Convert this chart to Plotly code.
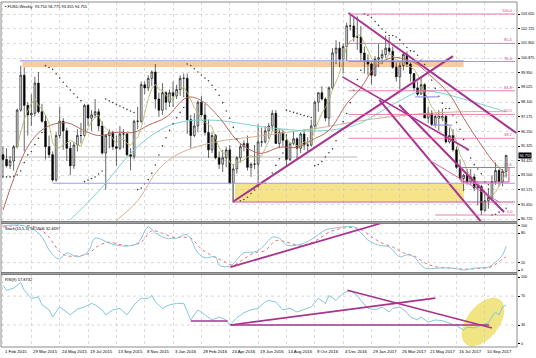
import numpy as np
import pandas as pd
import plotly.graph_objects as go

START = pd.Timestamp("2015-02-01")

# ---------------- weekly candles ----------------
open_ = [94.8, 94.5, 94.1, 94.4, 95.3, 97.6, 99.8, 97.9, 97.3, 97.4, 99.3, 97.5, 96.9, 95.3, 94.8, 93.2,
         96.0, 96.9, 96.3, 95.2, 94.1, 95.4, 96.0, 96.0, 97.9, 97.1, 97.3, 97.5, 96.6, 94.9, 96.0, 96.2,
         95.3, 95.2, 96.1, 96.1, 94.8, 94.7, 96.9, 96.9, 99.2, 99.0, 99.6, 100.0, 98.3, 97.6, 98.7, 98.1,
         98.7, 98.5, 98.9, 99.6, 99.6, 97.0, 96.0, 96.6, 98.1, 97.3, 96.2, 95.1, 96.0, 94.6, 94.2, 94.6,
         95.1, 93.0, 93.9, 94.6, 95.3, 95.5, 94.0, 94.2, 94.2, 95.6, 95.6, 96.3, 96.6, 97.4, 95.5, 96.2,
         95.7, 94.5, 95.5, 95.8, 95.2, 96.1, 95.4, 95.4, 96.6, 98.1, 98.7, 98.3, 97.1, 99.0, 101.2, 101.5,
         100.8, 101.6, 102.9, 102.9, 102.2, 102.2, 101.2, 100.7, 100.5, 99.8, 100.8, 100.9, 101.1, 101.5, 101.3, 100.3,
         99.7, 100.4, 101.1, 100.5, 99.9, 99.0, 98.6, 99.2, 97.1, 97.4, 96.7, 97.2, 97.1, 97.2, 95.6, 96.0,
         95.1, 94.0, 93.3, 93.5, 93.1, 93.4, 92.7, 92.8, 91.3, 91.9, 92.1, 93.1, 93.8, 93.1, 93.75]
high_ = [95.3, 95.2, 94.7, 95.4, 97.7, 100.4, 100.3, 98.1, 98.6, 99.7, 100.0, 98.0, 97.3, 96.0, 95.0, 96.2,
         97.8, 97.1, 96.5, 95.6, 95.6, 96.4, 96.8, 98.0, 98.0, 97.6, 98.3, 97.7, 96.9, 96.1, 96.4, 96.3,
         96.0, 96.6, 96.4, 96.2, 95.2, 97.0, 97.8, 99.4, 99.4, 99.8, 100.1, 100.5, 98.7, 99.3, 98.8, 98.9,
         99.4, 99.2, 99.8, 99.9, 99.9, 97.3, 97.4, 98.2, 98.5, 98.0, 97.0, 96.2, 96.1, 95.0, 95.1, 95.3,
         95.4, 94.2, 94.7, 95.5, 95.7, 96.0, 94.3, 95.4, 96.7, 96.5, 96.6, 96.8, 97.6, 97.6, 96.4, 96.4,
         96.1, 95.6, 96.3, 95.9, 96.2, 96.4, 95.9, 97.0, 98.2, 98.7, 99.1, 98.4, 99.1, 101.5, 102.0, 101.9,
         101.8, 103.1, 103.65, 103.4, 103.5, 102.9, 101.6, 101.1, 100.6, 101.0, 101.8, 101.4, 102.3, 102.2, 101.6, 100.6,
         100.6, 101.2, 101.3, 100.6, 99.9, 99.4, 99.7, 99.3, 97.8, 97.6, 97.3, 97.6, 97.7, 97.3, 96.5, 96.4,
         95.3, 94.5, 93.6, 93.9, 93.9, 93.6, 93.0, 92.9, 92.4, 92.7, 93.5, 94.3, 93.9, 93.9, 94.775]
low_ = [93.4, 94.0, 93.9, 93.8, 95.2, 97.5, 95.0, 96.0, 96.6, 97.2, 97.4, 96.8, 94.5, 94.6, 93.1, 93.1,
        95.8, 95.1, 94.4, 93.5, 93.9, 95.0, 95.5, 95.9, 96.6, 96.3, 97.1, 96.3, 94.8, 92.6, 95.2, 95.1,
        94.1, 95.1, 95.2, 94.7, 93.8, 94.5, 96.4, 96.8, 98.6, 98.8, 99.1, 97.7, 97.2, 97.3, 97.6, 97.8,
        97.8, 98.3, 98.5, 98.4, 96.1, 95.2, 95.9, 96.2, 97.2, 96.0, 94.6, 94.9, 94.5, 93.9, 93.7, 94.0,
        93.0, 91.9, 93.6, 94.3, 95.0, 93.8, 93.4, 93.9, 93.0, 95.3, 95.5, 95.8, 96.3, 95.5, 95.2, 95.3,
        94.1, 94.4, 95.4, 94.5, 94.9, 95.1, 95.0, 95.3, 96.4, 97.5, 98.2, 96.9, 96.6, 98.9, 100.5, 100.3,
        99.9, 100.7, 102.6, 101.9, 101.4, 100.7, 99.9, 99.8, 99.2, 99.7, 100.3, 100.5, 100.9, 101.1, 100.2, 99.4,
        98.9, 100.1, 100.3, 99.4, 98.8, 98.5, 98.6, 97.1, 96.8, 96.6, 96.5, 96.3, 96.9, 95.5, 95.5, 95.0,
        93.9, 93.2, 92.5, 92.9, 92.9, 92.5, 91.6, 91.0, 91.2, 91.4, 92.0, 92.9, 92.8, 92.8, 93.355]
close_ = [94.5, 94.1, 94.4, 95.3, 97.6, 99.8, 97.9, 97.3, 97.4, 99.3, 97.5, 96.9, 95.3, 94.8, 93.2, 96.0,
          96.9, 96.3, 95.2, 94.1, 95.4, 96.0, 96.0, 97.9, 97.1, 97.3, 97.5, 96.6, 94.9, 96.0, 96.2, 95.3,
          95.2, 96.1, 96.1, 94.8, 94.7, 96.9, 96.9, 99.2, 99.0, 99.6, 100.0, 98.3, 97.6, 98.7, 98.1, 98.7,
          98.5, 98.9, 99.6, 99.6, 97.0, 96.0, 96.6, 98.1, 97.3, 96.2, 95.1, 96.0, 94.6, 94.2, 94.6, 95.1,
          93.0, 93.9, 94.6, 95.3, 95.5, 94.0, 94.2, 94.2, 95.6, 95.6, 96.3, 96.6, 97.4, 95.5, 96.2, 95.7,
          94.5, 95.5, 95.8, 95.2, 96.1, 95.4, 95.4, 96.6, 98.1, 98.7, 98.3, 97.1, 99.0, 101.2, 101.5, 100.8,
          101.6, 102.9, 102.9, 102.2, 102.2, 101.2, 100.7, 100.5, 99.8, 100.8, 100.9, 101.1, 101.5, 101.3, 100.3, 99.7,
          100.4, 101.1, 100.5, 99.9, 99.0, 98.6, 99.2, 97.1, 97.4, 96.7, 97.2, 97.1, 97.2, 95.6, 96.0, 95.1,
          94.0, 93.3, 93.5, 93.1, 93.4, 92.7, 92.8, 91.3, 91.9, 92.1, 93.1, 93.8, 93.1, 93.75, 94.755]

# ---------------- moving averages (week index, price) ----------------
ma_brown_week = [0, 7, 12, 18, 23, 27, 32, 37, 41, 46, 52, 56, 61, 66, 70, 73, 78, 83, 87, 92, 97, 101,
                 105, 110, 116, 120, 126, 130, 135, 139, 142]
ma_brown_val = [91.3, 95.3, 96.5, 96.8, 96.3, 96.0, 96.2, 96.2, 96.65, 97.15, 98.4, 98.2, 97.15, 95.7, 95.07,
                94.88, 95.26, 95.26, 95.7, 96.33, 98.0, 99.0, 100.3, 100.9, 100.6, 99.9, 98.6, 97.1, 95.4, 94.2, 93.6]
ma_cyan_week = [19, 27, 37, 44, 50, 60, 75, 90, 100, 105, 112, 118, 123, 130, 136, 142]
ma_cyan_val = [90.7, 92.5, 95.1, 96.3, 96.84, 96.96, 96.5, 96.3, 96.7, 97.3, 98.2, 98.8, 98.7, 98.3, 97.9, 97.5]
ma_tan_week = [32, 38, 44, 50, 60, 70, 80, 90, 100, 110, 120, 130, 142]
ma_tan_val = [90.65, 91.9, 93.9, 94.9, 95.6, 95.9, 96.2, 96.5, 96.9, 97.2, 97.4, 97.5, 97.5]

# ---------------- Stochastic (week index, value) ----------------
stoch_k_week = [0, 4, 8, 11, 13, 15, 16, 18, 21, 24, 26, 30, 32, 35, 38, 41, 43, 46, 49, 52, 55, 57, 60, 61,
                64, 68, 71, 73, 76, 78, 80, 83, 85, 88, 91, 94, 96, 99, 101, 103, 106, 109, 112, 114, 116,
                119, 123, 127, 130, 133, 137, 139, 141, 142]
stoch_k_val = [95, 97, 91, 72, 46, 30, 28, 40, 32, 42, 70, 60, 56, 54, 60, 93, 81, 70, 70, 77, 40, 30, 32, 15,
               13, 40, 42, 50, 72, 70, 56, 56, 60, 72, 87, 91, 93, 93, 81, 66, 56, 52, 32, 36, 32,
               9, 9, 9, 5, 9, 11, 21, 36, 53.55]
stoch_d_week = [0, 5, 9, 12, 14, 16, 18, 21, 24, 27, 30, 33, 36, 39, 42, 45, 48, 51, 53, 56, 59, 62, 65, 68,
                71, 74, 77, 80, 83, 86, 89, 92, 95, 98, 101, 104, 107, 110, 113, 116, 119, 122, 126, 130,
                134, 138, 140, 142]
stoch_d_val = [93, 96, 93, 80, 62, 42, 34, 34, 38, 55, 62, 57, 55, 62, 85, 80, 72, 72, 70, 48, 34, 24, 15, 28,
               40, 45, 65, 62, 56, 58, 68, 82, 89, 92, 88, 73, 60, 52, 40, 34, 20, 12, 9, 7,
               8, 12, 22, 32.47]

# ---------------- RSI (week index, value) ----------------
rsi_week = [0, 1, 3, 5, 6, 8, 10, 11, 13, 14, 16, 18, 19, 21, 23, 25, 26, 28, 29, 31, 33, 35, 37, 39, 41, 42,
            43, 45, 47, 49, 51, 53, 55, 57, 59, 61, 63, 64, 66, 68, 70, 72, 74, 75, 77, 79, 81, 83, 85, 87,
            89, 91, 92, 94, 96, 98, 100, 101, 103, 105, 107, 109, 110, 112, 114, 115, 117, 118, 120, 122,
            124, 126, 128, 130, 131, 133, 135, 137, 138, 139, 140, 141, 142]
rsi_val = [85, 78, 81, 89, 78, 67, 69, 58, 51, 41, 55, 48, 44, 52, 55, 60, 58, 51, 44, 51, 53, 44, 58, 67, 67, 71,
           62, 53, 58, 60, 60, 37, 51, 44, 37, 41, 37, 30, 40, 47, 51, 53, 62, 64, 62, 51, 53, 48, 51, 55,
           67, 60, 71, 64, 74, 78, 71, 64, 53, 51, 55, 48, 53, 55, 47, 41, 37, 41, 34, 37,
           36, 33, 29, 23, 27, 26, 29, 33, 41, 48, 44, 55, 57.87]

# ---------------- drawn objects (week index, price / value) ----------------
trend_main = {
    "a": ([64.8, 127.0], [91.82, 101.0], 2.0),
    "b": ([97.5, 144.9], [103.71, 96.16], 2.0),
    "c": ([106.2, 134.8], [98.24, 90.62], 2.0),
    "d": ([111.8, 141.4], [97.92, 91.19], 2.0),
    "e": ([95.8, 131.5], [99.69, 95.09], 1.6),
    "f": ([120.3, 140.0], [94.46, 91.82], 1.0),
}
fib_levels = ["100.0", "85.4", "76.4", "61.8", "50.0", "38.2", "23.6", "0.0"]
fib_prices = [103.65, 101.80, 100.66, 98.82, 97.33, 95.83, 93.99, 91.00]
fib_start_week = [97.5, 97.5, 97.5, 97.5, 97.5, 97.5, 129.3, 122.0]
fib_end_week = 144.5

stoch_trend = ([64.2, 106.5], [11, 100])
rsi_trends = [([53, 63.4], [35.5, 35.5]), ([64.2, 137.2], [30, 30]),
              ([64.2, 122.0], [30, 67.2]), ([97.2, 138.0], [78.3, 25.9])]

price_ticks = [103.65, 102.725, 101.8, 100.875, 99.95, 99.025, 98.1, 97.175, 96.25, 95.325,
               94.425, 93.5, 92.575, 91.65, 90.725]
stoch_tick_pos = [5, 20, 80, 95]
stoch_tick_text = ["0", "20", "80", "100"]
rsi_tick_pos = [4, 30, 70, 96]
rsi_tick_text = ["0", "30", "70", "100"]
date_tick_labels = ["1 Feb 2015", "29 Mar 2015", "24 May 2015", "19 Jul 2015", "13 Sep 2015", "8 Nov 2015",
                    "3 Jan 2016", "28 Feb 2016", "24 Apr 2016", "19 Jun 2016", "14 Aug 2016", "9 Oct 2016",
                    "4 Dec 2016", "29 Jan 2017", "26 Mar 2017", "21 May 2017", "16 Jul 2017", "10 Sep 2017"]

# ---------------------------------------------------------------------
def wk(w):
    return START + pd.to_timedelta(np.asarray(w, dtype=float) * 7, unit="D")

dates = wk(np.arange(len(close_)))

# pixel helpers for paper-positioned decorations
PL, PW, PT, PH = 1.0, 516.0, 2.0, 345.0
def pxx(x):
    return (x - PL) / PW
def pxy(y):
    return (PT + PH - y) / PH

FONT = "Liberation Sans"
MAG = "#A8338F"
FIBC = "#E0609C"
LAV = "#9C9CF2"

fig = go.Figure()

# Moving averages
fig.add_trace(go.Scatter(x=wk(ma_tan_week), y=ma_tan_val, mode="lines", line=dict(color="#D9AE92", width=1, shape="spline"),
                         hoverinfo="skip", xaxis="x", yaxis="y"))
fig.add_trace(go.Scatter(x=wk(ma_cyan_week), y=ma_cyan_val, mode="lines", line=dict(color="#7FD0D0", width=1, shape="spline"),
                         hoverinfo="skip", xaxis="x", yaxis="y"))
fig.add_trace(go.Scatter(x=wk(ma_brown_week), y=ma_brown_val, mode="lines", line=dict(color="#B8675A", width=1, shape="spline"),
                         hoverinfo="skip", xaxis="x", yaxis="y"))
fast_ma = pd.Series(close_).rolling(5).mean()
fig.add_trace(go.Scatter(x=dates, y=fast_ma, mode="lines", line=dict(color="#B7B873", width=0.9),
                         hoverinfo="skip", xaxis="x", yaxis="y"))

# Parabolic SAR from the candles
def psar(h, l, step=0.02, mx=0.2):
    n = len(h)
    out = [np.nan] * n
    up = True
    af = step
    ep = h[0]
    out[0] = l[0]
    for i in range(1, n):
        s = out[i - 1] + af * (ep - out[i - 1])
        if up:
            s = min(s, l[i - 1], l[i - 2] if i > 1 else l[i - 1])
            if l[i] < s:
                up, s, ep, af = False, ep, l[i], step
            elif h[i] > ep:
                ep, af = h[i], min(af + step, mx)
        else:
            s = max(s, h[i - 1], h[i - 2] if i > 1 else h[i - 1])
            if h[i] > s:
                up, s, ep, af = True, ep, h[i], step
            elif l[i] < ep:
                ep, af = l[i], min(af + step, mx)
        out[i] = s
    return out

fig.add_trace(go.Scatter(x=dates, y=psar(high_, low_), mode="markers",
                         marker=dict(size=1.6, color="#404040"), hoverinfo="skip", xaxis="x", yaxis="y"))

# trend lines
for key, (w, p, wd) in trend_main.items():
    fig.add_trace(go.Scatter(x=wk(w), y=p, mode="lines", line=dict(color=MAG if wd > 1.2 else "#D86AA8", width=wd),
                             hoverinfo="skip", xaxis="x", yaxis="y"))

# Candles
fig.add_trace(go.Candlestick(x=dates, open=open_, high=high_, low=low_, close=close_,
                             increasing=dict(line=dict(color="#000000", width=0.6), fillcolor="#E6E6E6"),
                             decreasing=dict(line=dict(color="#000000", width=0.6), fillcolor="#000000"),
                             whiskerwidth=0, hoverinfo="skip", xaxis="x", yaxis="y"))

# Stochastic
fig.add_trace(go.Scatter(x=wk(stoch_d_week), y=stoch_d_val, mode="lines",
                         line=dict(color="#E05050", width=0.8, dash="dot", shape="spline"), hoverinfo="skip", xaxis="x", yaxis="y2"))
fig.add_trace(go.Scatter(x=wk(stoch_k_week), y=stoch_k_val, mode="lines",
                         line=dict(color="#86C6DA", width=1.0, shape="spline"), hoverinfo="skip", xaxis="x", yaxis="y2"))
fig.add_trace(go.Scatter(x=wk(stoch_trend[0]), y=stoch_trend[1], mode="lines", line=dict(color=MAG, width=1.8),
                         hoverinfo="skip", xaxis="x", yaxis="y2"))

# RSI
fig.add_trace(go.Scatter(x=wk(rsi_week), y=rsi_val, mode="lines", line=dict(color="#86C6DA", width=1.0),
                         hoverinfo="skip", xaxis="x", yaxis="y3"))
for w, v in rsi_trends:
    fig.add_trace(go.Scatter(x=wk(w), y=v, mode="lines", line=dict(color=MAG, width=1.6),
                             hoverinfo="skip", xaxis="x", yaxis="y3"))

shapes = []
# orange band + lavender line (top)
shapes.append(dict(type="rect", xref="x", yref="y", x0=wk(5.5), x1=wk(130), y0=100.32, y1=100.63,
                   fillcolor="#FBCB9E", line=dict(width=0), layer="below"))
shapes.append(dict(type="line", xref="x", yref="y", x0=wk(4.8), x1=wk(130), y0=100.70, y1=100.70,
                   line=dict(color=LAV, width=1.2)))
# yellow box
shapes.append(dict(type="rect", xref="x", yref="y", x0=wk(65.5), x1=wk(130.1), y0=91.85, y1=93.0,
                   fillcolor="#F5E48A", line=dict(width=0), layer="below"))
shapes.append(dict(type="line", xref="x", yref="y", x0=wk(14), x1=wk(144.5), y0=93.0, y1=93.0,
                   line=dict(color=LAV, width=1.2)))
shapes.append(dict(type="line", xref="x", yref="y", x0=wk(64.8), x1=wk(144.5), y0=91.82, y1=91.82,
                   line=dict(color="#D0509A", width=1.2)))
shapes.append(dict(type="line", xref="x", yref="y", x0=wk(64.8), x1=wk(64.8), y0=91.82, y1=93.0,
                   line=dict(color="#909090", width=0.8)))
# gray horizontal
shapes.append(dict(type="line", xref="x", yref="y", x0=wk(-0.5), x1=wk(100), y0=94.65, y1=94.65,
                   line=dict(color="#A8A8A8", width=0.8), layer="below"))
# short lavender segments
shapes.append(dict(type="line", xref="x", yref="y", x0=wk(116.3), x1=wk(122.8), y0=98.43, y1=98.43,
                   line=dict(color=LAV, width=1.2)))
shapes.append(dict(type="line", xref="x", yref="y", x0=wk(121.1), x1=wk(126.8), y0=96.66, y1=96.66,
                   line=dict(color=LAV, width=1.2)))
# pink box near the end
shapes.append(dict(type="rect", xref="x", yref="y", x0=wk(129.3), x1=wk(142.8), y0=93.08, y1=93.99,
                   line=dict(color="#D0509A", width=1)))
# fib lines
for lab, pr, ws in zip(fib_levels, fib_prices, fib_start_week):
    shapes.append(dict(type="line", xref="x", yref="y", x0=wk(ws), x1=wk(fib_end_week), y0=pr, y1=pr,
                       line=dict(color=FIBC, width=0.8)))
# level lines in indicator panes
for lv in (20, 80):
    shapes.append(dict(type="line", xref="paper", yref="y2", x0=0, x1=1, y0=lv, y1=lv,
                       line=dict(color="#C0C0C0", width=0.6, dash="dot"), layer="below"))
for lv in (30, 70):
    shapes.append(dict(type="line", xref="paper", yref="y3", x0=0, x1=1, y0=lv, y1=lv,
                       line=dict(color="#C0C0C0", width=0.6, dash="dot"), layer="below"))
# yellow ellipse in RSI pane
t = np.linspace(0, 2 * np.pi, 60)
th = np.deg2rad(52)
cx, cy, ea, eb = 483.0, 322.0, 28.0, 16.0
ex = cx + ea * np.cos(t) * np.cos(th) + eb * np.sin(t) * np.sin(th)
ey = cy - ea * np.cos(t) * np.sin(th) + eb * np.sin(t) * np.cos(th)
ey = np.minimum(ey, 346.5)
path = "M " + " L ".join(f"{pxx(a):.5f},{pxy(b):.5f}" for a, b in zip(ex, ey)) + " Z"
shapes.append(dict(type="path", xref="paper", yref="paper", path=path,
                   fillcolor="rgba(238,222,100,0.8)", line=dict(width=0), layer="below"))

# pane frames and separators
D_MAIN = [pxy(221.5), 1.0]
D_STO = [pxy(272.5), pxy(223.5)]
D_RSI = [0.0, pxy(274.5)]
for d in (D_MAIN, D_STO, D_RSI):
    shapes.append(dict(type="rect", xref="paper", yref="paper", x0=0, x1=1, y0=d[0], y1=d[1],
                       line=dict(color="#6E6E6E", width=0.8)))
shapes.append(dict(type="rect", xref="paper", yref="paper", x0=0, x1=1, y0=D_STO[1], y1=D_MAIN[0],
                   fillcolor="#A0A0A0", line=dict(color="#6E6E6E", width=0.6)))
shapes.append(dict(type="rect", xref="paper", yref="paper", x0=0, x1=1, y0=D_RSI[1], y1=D_STO[0],
                   fillcolor="#A0A0A0", line=dict(color="#6E6E6E", width=0.6)))

annotations = []
small = dict(family=FONT, size=4, color="#000000")
axfont = dict(family=FONT, size=3.7, color="#000000")
annotations.append(dict(xref="paper", yref="paper", x=pxx(3), y=pxy(6), xanchor="left", yanchor="middle",
                        text="▪ FUSD,Weekly  93.750 94.775 93.355 94.755", showarrow=False, font=small))
annotations.append(dict(xref="paper", yref="paper", x=pxx(3), y=pxy(228.5), xanchor="left", yanchor="middle",
                        text="Stoch(15,5,3) 53.5506 32.4697", showarrow=False, font=small))
annotations.append(dict(xref="paper", yref="paper", x=pxx(3), y=pxy(279), xanchor="left", yanchor="middle",
                        text="RSI(9) 57.8732", showarrow=False, font=small))
tick_weeks = list(range(0, 8 * len(date_tick_labels), 8))
for w, lab in zip(tick_weeks, date_tick_labels):
    annotations.append(dict(xref="x", yref="paper", x=wk(w), y=pxy(351.5), xanchor="left", yanchor="middle",
                            text=lab, showarrow=False, font=dict(family=FONT, size=4.3, color="#000000")))
for lab, pr in zip(fib_levels, fib_prices):
    annotations.append(dict(xref="x", yref="y", x=wk(fib_end_week), y=pr, xanchor="right", yanchor="bottom",
                            text=lab, showarrow=False, font=dict(family=FONT, size=4, color="#D04888"), yshift=-1))
# right-hand axis labels (placed explicitly so that they stay inside the page)
for v in price_ticks:
    annotations.append(dict(xref="paper", yref="y", x=1.0, y=v, xanchor="left", yanchor="middle", xshift=2,
                            text=f"{v:.3f}", showarrow=False, font=axfont))
for v, s in zip(stoch_tick_pos, stoch_tick_text):
    annotations.append(dict(xref="paper", yref="y2", x=1.0, y=v, xanchor="left", yanchor="middle", xshift=2,
                            text=s, showarrow=False, font=axfont))
for v, s in zip(rsi_tick_pos, rsi_tick_text):
    annotations.append(dict(xref="paper", yref="y3", x=1.0, y=v, xanchor="left", yanchor="middle", xshift=2,
                            text=s, showarrow=False, font=axfont))
annotations.append(dict(xref="paper", yref="y", x=1.0, y=94.755, xanchor="left", yanchor="middle", xshift=1,
                        text="94.755", showarrow=False, bgcolor="#000000", borderpad=0.5,
                        font=dict(family=FONT, size=3.7, color="#FFFFFF")))

fig.update_layout(
    width=536, height=358,
    margin=dict(l=1, r=19, t=2, b=11),
    paper_bgcolor="#FFFFFF", plot_bgcolor="#FFFFFF",
    showlegend=False, hovermode=False,
    font=dict(family=FONT, size=4, color="#000000"),
    xaxis=dict(domain=[0, 1], anchor="y3", type="date", range=[wk(-0.563), wk(145.07)],
               tickvals=list(wk(tick_weeks)), showticklabels=False, ticks="",
               showgrid=True, gridcolor="#C4C4C4", griddash="dot", gridwidth=0.6,
               zeroline=False, showline=False, rangeslider=dict(visible=False), fixedrange=True),
    yaxis=dict(domain=D_MAIN, anchor="x", side="right", range=[90.592, 104.405],
               tickvals=price_ticks, showticklabels=False,
               ticks="outside", ticklen=1.5, tickcolor="#000000",
               showgrid=True, gridcolor="#C4C4C4", griddash="dot", gridwidth=0.6, zeroline=False),
    yaxis2=dict(domain=D_STO, anchor="x", side="right", range=[0, 100],
                tickvals=stoch_tick_pos, showticklabels=False,
                ticks="outside", ticklen=1.5, tickcolor="#000000", showgrid=False, zeroline=False),
    yaxis3=dict(domain=D_RSI, anchor="x", side="right", range=[-0.5, 100],
                tickvals=rsi_tick_pos, showticklabels=False,
                ticks="outside", ticklen=1.5, tickcolor="#000000", showgrid=False, zeroline=False),
    shapes=shapes,
    annotations=annotations,
)

fig.write_html("out.html",
               config={"displayModeBar": False, "staticPlot": True},
               post_script="document.body.style.margin='0';document.body.style.padding='0';"
                           "document.body.style.overflow='hidden';")
